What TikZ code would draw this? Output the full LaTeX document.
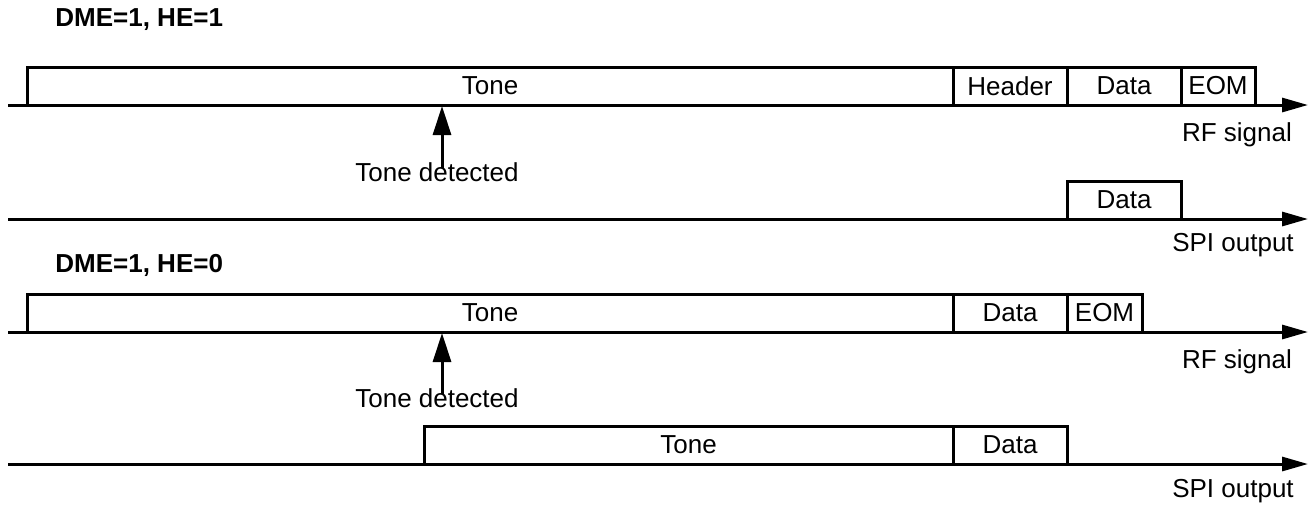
\documentclass[tikz,border=0pt]{standalone}
\usepackage{fontspec}
\setmainfont{Liberation Sans}
\usetikzlibrary{arrows.meta, positioning}

\begin{document}
\begin{tikzpicture}[
  x=0.5pt, y=-0.5pt,
  every node/.style={font=\fontsize{13}{15}\selectfont},
  cell/.style={draw, line width=1.5pt, minimum height=19pt, inner sep=0pt},
  axis/.style={line width=1.5pt, -{Triangle[length=13pt, width=7pt]}},
  pointer/.style={line width=1.5pt, -{Triangle[length=14.5pt, width=9pt]}},
  title/.style={font=\fontsize{13}{15}\selectfont\bfseries, anchor=west, inner sep=0pt},
  lbl/.style={inner sep=0pt}
]
  \useasboundingbox (0,0) rectangle (1309,510);

  % DME=1, HE=1
  \node[title] (t1) at (55,20) {DME=1, HE=1};
  \coordinate (rf1s) at (8,105);
  \coordinate (rf1e) at (1308,105);
  \draw[axis] (rf1s) -- (rf1e);
  \node[cell, minimum width=463pt] (tone1) at (490,86) {Tone};
  \node[cell, minimum width=57pt] (hdr1) at (1010,86) {Header};
  \node[cell, minimum width=57pt] (data1) at (1124,86) {Data};
  \node[cell, minimum width=37pt] (eom1) at (1218,86) {EOM};
  \node[lbl] (rf1) at (1237,135) {RF signal};
  \node[lbl] (det1) at (437,172) {Tone detected};
  \coordinate (hit1) at (442,106);
  \draw[pointer] ([shift={(2.5pt,-3pt)}]det1.north) -- (hit1);

  \coordinate (spi1s) at (8,219);
  \coordinate (spi1e) at (1308,219);
  \draw[axis] (spi1s) -- (spi1e);
  \node[cell, minimum width=57pt] (data2) at (1124,200) {Data};
  \node[lbl] (spi1) at (1233,245) {SPI output};

  % DME=1, HE=0
  \node[title] (t2) at (55,265) {DME=1, HE=0};
  \coordinate (rf2s) at (8,332);
  \coordinate (rf2e) at (1308,332);
  \draw[axis] (rf2s) -- (rf2e);
  \node[cell, minimum width=463pt] (tone3) at (490,313) {Tone};
  \node[cell, minimum width=57pt] (data3) at (1010,313) {Data};
  \node[cell, minimum width=37.5pt] (eom3) at (1104.5,313) {EOM};
  \node[lbl] (rf2) at (1237,362) {RF signal};
  \node[lbl] (det2) at (437,398) {Tone detected};
  \coordinate (hit2) at (442,333);
  \draw[pointer] ([shift={(2.5pt,-3pt)}]det2.north) -- (hit2);

  \coordinate (spi2s) at (8,464);
  \coordinate (spi2e) at (1308,464);
  \draw[axis] (spi2s) -- (spi2e);
  \node[cell, minimum width=264.5pt] (tone4) at (688.5,445) {Tone};
  \node[cell, minimum width=57pt] (data4) at (1010,445) {Data};
  \node[lbl] (spi2) at (1233,491) {SPI output};
\end{tikzpicture}
\end{document}
